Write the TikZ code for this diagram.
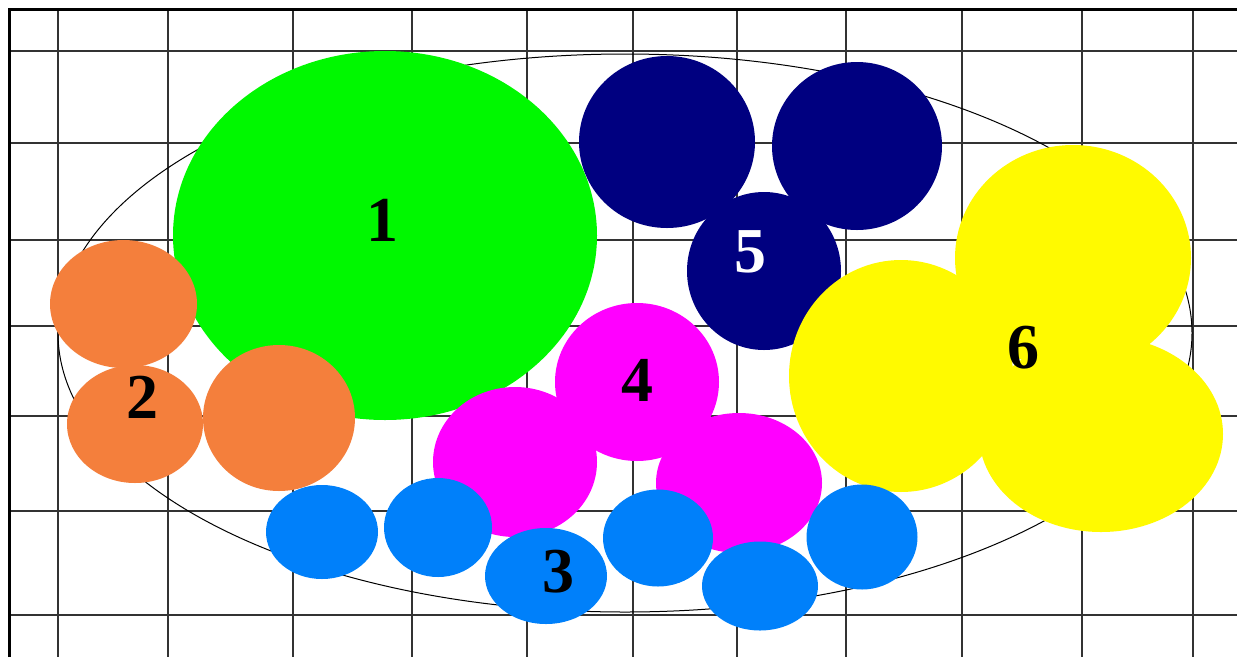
\documentclass[tikz,border=0pt]{standalone}
\usepackage{fontspec}
\setmainfont{Liberation Serif}
\definecolor{cgreen}{RGB}{0,248,0}
\definecolor{corange}{RGB}{244,127,60}
\definecolor{cblue}{RGB}{0,128,250}
\definecolor{cnavy}{RGB}{0,0,128}
\definecolor{cmag}{RGB}{255,0,255}
\definecolor{cyel}{RGB}{255,250,0}
\begin{document}
\begin{tikzpicture}[x=1pt,y=-1pt,
  gridline/.style={line width=1.5pt, draw=black!80},
  border/.style={line width=3pt, draw=black},
  outline/.style={line width=1pt, draw=black},
  lab/.style={font=\fontsize{64}{64}\selectfont\bfseries, inner sep=0pt, text=black}]
\useasboundingbox (0,0) rectangle (1237,657);
\fill[white] (0,0) rectangle (1237,657);
% grid
\foreach \yy in {51,143,240,326,416,511,615}
  \draw[gridline] (10,\yy) -- (1237,\yy);
\foreach \xx in {58,168,293,412,527,633,737,846,962,1082,1193}
  \draw[gridline] (\xx,10) -- (\xx,657);
\draw[border] (9,657) -- (9,9) -- (1237,9);
% big ellipse
\draw[outline] (625,333) ellipse [x radius=567pt, y radius=279pt];
% group 5 (navy)
\fill[cnavy] (667,142) ellipse [x radius=88pt, y radius=86pt];
\fill[cnavy] (857,146) ellipse [x radius=85pt, y radius=84pt];
\fill[cnavy] (764,271) ellipse [x radius=77pt, y radius=79pt];
% group 6 (yellow)
\fill[cyel] (1073,258) ellipse [x radius=118pt, y radius=113pt];
\fill[cyel] (901,376) ellipse [x radius=112pt, y radius=116pt];
\fill[cyel] (1101,434) ellipse [x radius=122pt, y radius=98pt];
% group 1 (green)
\fill[cgreen] (385,235.5) ellipse [x radius=212pt, y radius=184.5pt];
% group 2 (orange)
\fill[corange] (123.5,304) ellipse [x radius=73.5pt, y radius=64pt];
\fill[corange] (135,424) ellipse [x radius=68pt, y radius=59pt];
\fill[corange] (279,418) ellipse [x radius=76pt, y radius=73pt];
% group 4 (magenta)
\fill[cmag] (637,382) ellipse [x radius=82pt, y radius=79pt];
\fill[cmag] (515,462) ellipse [x radius=82pt, y radius=75pt];
\fill[cmag] (739,483) ellipse [x radius=83pt, y radius=70pt];
% group 3 (blue)
\fill[cblue] (322,532) ellipse [x radius=56pt, y radius=47pt];
\fill[cblue] (438,527.5) ellipse [x radius=54pt, y radius=49.5pt];
\fill[cblue] (546,576) ellipse [x radius=61pt, y radius=48pt];
\fill[cblue] (658,538) ellipse [x radius=55pt, y radius=48.5pt];
\fill[cblue] (760,586) ellipse [x radius=58pt, y radius=44.5pt];
\fill[cblue] (862,537) ellipse [x radius=55.5pt, y radius=52.5pt];
% labels
\node[lab] (l1) at (382,220) {1};
\node[lab] (l2) at (142,397) {2};
\node[lab] (l3) at (558,572) {3};
\node[lab] (l4) at (637,380) {4};
\node[lab, text=white] (l5) at (750,252) {5};
\node[lab] (l6) at (1023,348) {6};
\end{tikzpicture}
\end{document}
